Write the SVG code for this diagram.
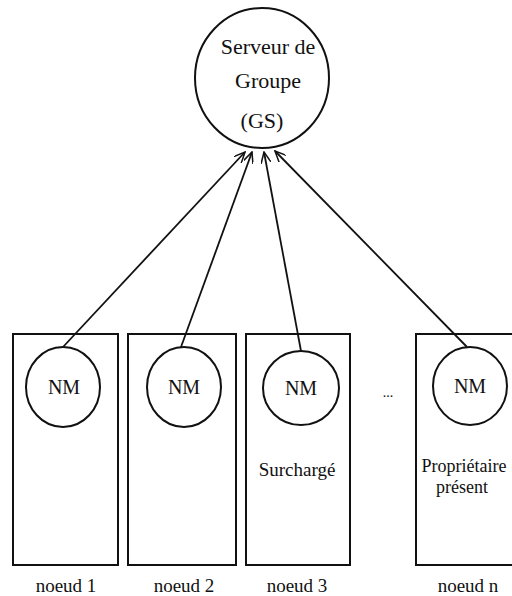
<svg xmlns="http://www.w3.org/2000/svg" width="512" height="596" viewBox="0 0 512 596">
<style>
.s{fill:none;stroke:#111;stroke-width:2}
.t{fill:#111;text-anchor:middle}
.c{stroke:#111;stroke-width:1.8;fill:none;marker-end:url(#ah)}
</style>
<defs>
<marker id="ah" viewBox="0 0 12 10" refX="11" refY="5" markerWidth="12" markerHeight="10" markerUnits="userSpaceOnUse" orient="auto">
<path d="M0,0 L11,5 L0,10" fill="none" stroke="#111" stroke-width="1.5"/>
</marker>
</defs>
<rect width="512" height="596" fill="#fff"/>
<g font-family="Liberation Serif, Times New Roman, serif">
<g id="gs">
<ellipse class="s" cx="262" cy="78" rx="67" ry="70"/>
<text class="t" x="268" y="54" font-size="22">Serveur de</text>
<text class="t" x="268" y="88" font-size="22">Groupe</text>
<text class="t" x="262" y="128" font-size="22">(GS)</text>
</g>
<g id="node1">
<rect class="s" x="13" y="334" width="105" height="231"/>
<ellipse class="s" cx="63" cy="387" rx="37" ry="40"/>
<text class="t" x="64" y="394" font-size="20">NM</text>
<text class="t" x="66" y="592" font-size="19">noeud 1</text>
</g>
<g id="node2">
<rect class="s" x="128" y="334" width="108" height="231"/>
<ellipse class="s" cx="184" cy="387" rx="37" ry="40"/>
<text class="t" x="184" y="394" font-size="20">NM</text>
<text class="t" x="184" y="592" font-size="19">noeud 2</text>
</g>
<g id="node3">
<rect class="s" x="246" y="334" width="104" height="231"/>
<ellipse class="s" cx="301" cy="388" rx="38" ry="37"/>
<text class="t" x="301" y="395" font-size="20">NM</text>
<text class="t" x="297" y="476" font-size="19">Surchargé</text>
<text class="t" x="297" y="592" font-size="19">noeud 3</text>
</g>
<g id="dots">
<text class="t" x="388" y="397" font-size="14">...</text>
</g>
<g id="noden">
<path class="s" d="M512,334 H416 V565 H512"/>
<ellipse class="s" cx="470" cy="386" rx="37" ry="39"/>
<text class="t" x="464" y="472" font-size="18">Propriétaire</text>
<text class="t" x="462" y="493" font-size="18">présent</text>
<text class="t" x="470" y="393" font-size="20">NM</text>
<text class="t" x="468" y="592" font-size="19">noeud n</text>
</g>
</g>
<g id="connectors">
<line class="c" x1="63" y1="347" x2="245" y2="152"/>
<line class="c" x1="181" y1="347" x2="252" y2="152"/>
<line class="c" x1="301" y1="351" x2="264" y2="152"/>
<line class="c" x1="467" y1="347" x2="275" y2="151"/>
</g>
</svg>
